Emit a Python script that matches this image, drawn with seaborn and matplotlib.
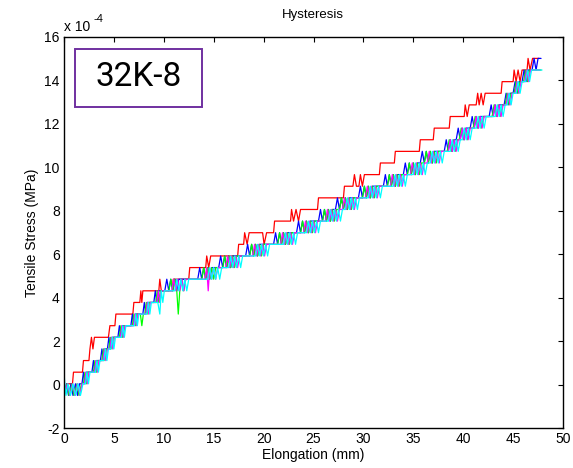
import numpy as np
import pandas as pd
import matplotlib
matplotlib.use("Agg")
import matplotlib.pyplot as plt
import seaborn as sns
from matplotlib.patches import Rectangle
from matplotlib.ticker import FuncFormatter

# ---------------- data ----------------
# stress is recorded in discrete load-cell counts; one count = QUANTUM MPa
QUANTUM = 0.535e-4
BASE = -0.5e-4
SCALE = 1e-4

x_ticks = [0, 5, 10, 15, 20, 25, 30, 35, 40, 45, 50]
y_ticks = [-2, 0, 2, 4, 6, 8, 10, 12, 14, 16]

# (elongation mm, count) samples
red_pts = [(0, 0), (0.3, 1), (0.85, 1), (0.95, 2), (1.85, 2), (1.95, 3), (2.5, 3), (2.6, 4),
           (2.75, 5), (2.9, 4), (3.05, 5), (4.45, 5), (4.6, 6), (5.1, 6), (5.2, 7), (6.9, 7),
           (7.0, 8), (7.6, 8), (7.7, 9), (7.8, 8), (7.9, 9), (9.5, 9), (9.6, 10), (9.75, 9),
           (10.85, 9), (10.95, 10), (12.5, 10), (12.6, 11), (14.2, 11), (14.3, 12), (14.5, 11),
           (14.7, 12), (17.4, 12), (17.5, 13), (18.0, 13), (18.1, 14), (18.35, 13), (18.55, 14),
           (19.9, 14), (20.05, 13), (20.3, 14), (21.0, 14), (21.1, 15), (22.7, 15), (22.8, 16),
           (23.0, 15), (23.25, 16), (23.5, 15), (23.7, 16), (25.4, 16), (25.5, 17), (28.0, 17),
           (28.1, 18), (28.95, 18), (29.1, 19), (29.3, 18), (29.55, 18), (29.7, 19), (29.9, 18),
           (30.1, 19), (31.6, 19), (31.7, 20), (33.1, 20), (33.2, 21), (35.6, 21), (35.7, 22),
           (37.0, 22), (37.1, 23), (38.6, 23), (38.7, 24), (40.1, 24), (40.2, 25), (40.4, 24),
           (40.6, 25), (41.3, 25), (41.45, 26), (41.6, 25), (41.8, 26), (42.0, 25), (42.2, 26),
           (43.8, 26), (43.9, 27), (45.0, 27), (45.1, 28), (45.3, 27), (45.5, 28), (45.7, 27),
           (45.9, 28), (46.4, 28), (46.5, 29), (46.7, 28), (46.95, 29), (47.6, 29)]

blue_pts = [(0.0, 0), (0.25, 1), (0.45, 0), (0.7, 1), (0.9, 0), (1.15, 1), (1.35, 0), (1.55, 1),
            (1.8, 1), (1.95, 2), (2.1, 1), (2.25, 2),
            (2.8, 2), (2.95, 3), (3.1, 2), (3.25, 3),
            (3.65, 3), (3.8, 4), (3.95, 3), (4.1, 4),
            (4.35, 4), (4.5, 5), (4.65, 4), (4.8, 5),
            (5.4, 5), (5.55, 6), (5.7, 5), (5.85, 6),
            (6.7, 6), (6.85, 7), (7.0, 6), (7.15, 7),
            (7.9, 7), (8.05, 8), (8.2, 7), (8.35, 8),
            (9.0, 8), (9.15, 9), (9.3, 8), (9.45, 9),
            (10.1, 9), (10.3, 10), (10.5, 9), (10.7, 10), (10.9, 9), (11.1, 10), (11.3, 9), (11.5, 10),
            (13.4, 10), (13.6, 11), (13.8, 10), (14.0, 11), (14.2, 10), (14.4, 11), (14.6, 10), (14.8, 11),
            (15.5, 11), (15.7, 12), (15.9, 11), (16.1, 12), (16.3, 11), (16.5, 12), (16.7, 11), (16.9, 12),
            (18.2, 12), (18.4, 13), (18.6, 12), (18.8, 13), (19.0, 12), (19.2, 13), (19.4, 12), (19.6, 13),
            (21.0, 13), (21.2, 14), (21.4, 13), (21.6, 14), (21.8, 13), (22.0, 14), (22.2, 13), (22.4, 14),
            (23.3, 14), (23.5, 15), (23.7, 14), (23.9, 15), (24.1, 14), (24.3, 15), (24.5, 14), (24.7, 15),
            (25.5, 15), (25.7, 16), (25.9, 15), (26.1, 16), (26.3, 15), (26.5, 16), (26.7, 15), (26.9, 16),
            (27.2, 16), (27.4, 17), (27.6, 16), (27.8, 17), (28.0, 16), (28.2, 17), (28.4, 16), (28.6, 17),
            (29.5, 17), (29.7, 18), (29.9, 17), (30.1, 18), (30.3, 17), (30.5, 18), (30.7, 17), (30.9, 18),
            (32.0, 18), (32.2, 19), (32.4, 18), (32.6, 19), (32.8, 18), (33.0, 19), (33.2, 18), (33.4, 19),
            (34.0, 19), (34.2, 20), (34.4, 19), (34.6, 20), (34.8, 19), (35.0, 20), (35.2, 19), (35.4, 20),
            (35.7, 20), (35.9, 21), (36.1, 20), (36.3, 21), (36.5, 20), (36.7, 21), (36.9, 20), (37.1, 21),
            (38.1, 21), (38.3, 22), (38.5, 21), (38.7, 22), (38.9, 21), (39.1, 22),
            (39.3, 22), (39.5, 23), (39.7, 22), (39.9, 23), (40.1, 22), (40.3, 23),
            (40.7, 23), (40.9, 24), (41.1, 23), (41.3, 24), (41.5, 23), (41.7, 24),
            (42.6, 24), (42.8, 25), (43.0, 24), (43.2, 25), (43.4, 24), (43.6, 25),
            (44.1, 25), (44.3, 26), (44.5, 25), (44.7, 26),
            (45.0, 26), (45.2, 27), (45.4, 26), (45.6, 27),
            (45.9, 27), (46.1, 28), (46.3, 27), (46.5, 28),
            (46.9, 28), (47.1, 29), (47.3, 28), (47.5, 29), (47.8, 29)]

green_pts = [(0.0, 0), (0.3, 1), (0.5, 0), (0.8, 1), (1.0, 0), (1.3, 1), (1.5, 0), (1.75, 1),
             (1.95, 1), (2.1, 2), (2.25, 1), (2.4, 2),
             (2.95, 2), (3.1, 3), (3.25, 2), (3.4, 3),
             (3.8, 3), (3.95, 4), (4.1, 3), (4.25, 4),
             (4.5, 4), (4.65, 5), (4.8, 4), (4.95, 5),
             (5.55, 5), (5.7, 6), (5.85, 5), (6.0, 6),
             (6.85, 6), (7.0, 7), (7.15, 6), (7.3, 7), (7.65, 7), (7.8, 6), (7.95, 7),
             (8.1, 7), (8.25, 8), (8.4, 7), (8.55, 8),
             (9.2, 8), (9.35, 9), (9.5, 8), (9.65, 9),
             (10.5, 9), (10.7, 10), (10.9, 9), (11.1, 10), (11.3, 9), (11.45, 7), (11.6, 9), (11.8, 10), (12.0, 9), (12.2, 10),
             (13.8, 10), (14.0, 11), (14.2, 10), (14.4, 11), (14.6, 10), (14.8, 11), (15.0, 10), (15.2, 11),
             (15.9, 11), (16.1, 12), (16.3, 11), (16.5, 12), (16.7, 11), (16.9, 12), (17.1, 11), (17.3, 12),
             (18.6, 12), (18.8, 13), (19.0, 12), (19.2, 13), (19.4, 12), (19.6, 13), (19.8, 12), (20.0, 13),
             (21.4, 13), (21.6, 14), (21.8, 13), (22.0, 14), (22.2, 13), (22.4, 14), (22.6, 13), (22.8, 14),
             (23.7, 14), (23.9, 15), (24.1, 14), (24.3, 15), (24.5, 14), (24.7, 15), (24.9, 14), (25.1, 15),
             (25.9, 15), (26.1, 16), (26.3, 15), (26.5, 16), (26.7, 15), (26.9, 16), (27.1, 15), (27.3, 16),
             (27.6, 16), (27.8, 17), (28.0, 16), (28.2, 17), (28.4, 16), (28.6, 17), (28.8, 16), (29.0, 17),
             (29.9, 17), (30.1, 18), (30.3, 17), (30.5, 18), (30.7, 17), (30.9, 18), (31.1, 17), (31.3, 18),
             (32.4, 18), (32.6, 19), (32.8, 18), (33.0, 19), (33.2, 18), (33.4, 19), (33.6, 18), (33.8, 19),
             (34.4, 19), (34.6, 20), (34.8, 19), (35.0, 20), (35.2, 19), (35.4, 20), (35.6, 19), (35.8, 20),
             (36.1, 20), (36.3, 21), (36.5, 20), (36.7, 21), (36.9, 20), (37.1, 21), (37.3, 20), (37.5, 21),
             (38.4, 21), (38.6, 22), (38.8, 21), (39.0, 22), (39.2, 21), (39.4, 22),
             (39.6, 22), (39.8, 23), (40.0, 22), (40.2, 23), (40.4, 22), (40.6, 23),
             (41.0, 23), (41.2, 24), (41.4, 23), (41.6, 24), (41.8, 23), (42.0, 24),
             (42.9, 24), (43.1, 25), (43.3, 24), (43.5, 25), (43.7, 24), (43.9, 25),
             (44.2, 25), (44.4, 26), (44.6, 25), (44.8, 26),
             (45.1, 26), (45.3, 27), (45.5, 26), (45.7, 27),
             (46.05, 27), (46.25, 28), (46.45, 27), (46.65, 28), (47.8, 28)]

magenta_pts = [(0.0, 0), (0.35, 1), (0.6, 0), (0.85, 1), (1.1, 0), (1.35, 1), (1.6, 0), (1.8, 1),
               (2.05, 1), (2.2, 2), (2.35, 1), (2.5, 2),
               (3.05, 2), (3.2, 3), (3.35, 2), (3.5, 3),
               (3.9, 3), (4.05, 4), (4.2, 3), (4.35, 4),
               (4.6, 4), (4.75, 5), (4.9, 4), (5.05, 5),
               (5.65, 5), (5.8, 6), (5.95, 5), (6.1, 6),
               (6.95, 6), (7.1, 7), (7.25, 6), (7.4, 7),
               (8.2, 7), (8.35, 8), (8.5, 7), (8.65, 8),
               (9.3, 8), (9.45, 9), (9.6, 8), (9.75, 9),
               (10.8, 9), (11.0, 10), (11.2, 9), (11.4, 10), (11.6, 9), (11.8, 10), (12.0, 9), (12.2, 10),
               (14.1, 10), (14.3, 11), (14.45, 9), (14.6, 11), (14.8, 10), (15.0, 11), (15.2, 10), (15.4, 11),
               (16.2, 11), (16.4, 12), (16.6, 11), (16.8, 12), (17.0, 11), (17.2, 12), (17.4, 11), (17.6, 12),
               (18.9, 12), (19.1, 13), (19.3, 12), (19.5, 13), (19.7, 12), (19.9, 13), (20.1, 12), (20.3, 13),
               (21.7, 13), (21.9, 14), (22.1, 13), (22.3, 14), (22.5, 13), (22.7, 14), (22.9, 13), (23.1, 14),
               (24.0, 14), (24.2, 15), (24.4, 14), (24.6, 15), (24.8, 14), (25.0, 15), (25.2, 14), (25.4, 15),
               (26.2, 15), (26.4, 16), (26.6, 15), (26.8, 16), (27.0, 15), (27.2, 16), (27.4, 15), (27.6, 16),
               (27.9, 16), (28.1, 17), (28.3, 16), (28.5, 17), (28.7, 16), (28.9, 17), (29.1, 16), (29.3, 17),
               (30.2, 17), (30.4, 18), (30.6, 17), (30.8, 18), (31.0, 17), (31.2, 18), (31.4, 17), (31.6, 18),
               (32.7, 18), (32.9, 19), (33.1, 18), (33.3, 19), (33.5, 18), (33.7, 19), (33.9, 18), (34.1, 19),
               (34.7, 19), (34.9, 20), (35.1, 19), (35.3, 20), (35.5, 19), (35.7, 20), (35.9, 19), (36.1, 20),
               (36.4, 20), (36.6, 21), (36.8, 20), (37.0, 21), (37.2, 20), (37.4, 21), (37.6, 20), (37.8, 21),
               (38.5, 21), (38.7, 22), (38.9, 21), (39.1, 22), (39.3, 21), (39.5, 22),
               (39.7, 22), (39.9, 23), (40.1, 22), (40.3, 23), (40.5, 22), (40.7, 23),
               (41.1, 23), (41.3, 24), (41.5, 23), (41.7, 24), (41.9, 23), (42.1, 24),
               (43.0, 24), (43.2, 25), (43.4, 24), (43.6, 25), (43.8, 24), (44.0, 25),
               (44.3, 25), (44.5, 26), (44.7, 25), (44.9, 26),
               (45.2, 26), (45.4, 27), (45.6, 26), (45.8, 27),
               (46.15, 27), (46.35, 28), (46.55, 27), (46.75, 28), (47.7, 28)]

cyan_pts = [(0.0, 2), (0.08, 1), (0.2, 0),
            (0.4, 1), (0.65, 0), (0.9, 1), (1.15, 0), (1.4, 1), (1.65, 0), (1.9, 1),
            (2.15, 1), (2.3, 2), (2.45, 1), (2.6, 2),
            (3.15, 2), (3.3, 3), (3.45, 2), (3.6, 3),
            (4.0, 3), (4.15, 4), (4.3, 3), (4.45, 4),
            (4.7, 4), (4.85, 5), (5.0, 4), (5.15, 5),
            (5.75, 5), (5.9, 6), (6.05, 5), (6.2, 6),
            (7.05, 6), (7.2, 7), (7.35, 6), (7.5, 7),
            (8.3, 7), (8.45, 8), (8.6, 7), (8.75, 8),
            (9.4, 8), (9.6, 7), (9.75, 9), (9.9, 8), (10.05, 9),
            (11.1, 9), (11.3, 10), (11.5, 9), (11.7, 10), (11.9, 9), (12.1, 10), (12.3, 9), (12.5, 10),
            (14.4, 10), (14.6, 11), (14.8, 10), (15.0, 11), (15.2, 10), (15.4, 11), (15.6, 10), (15.8, 11),
            (16.5, 11), (16.7, 12), (16.9, 11), (17.1, 12), (17.3, 11), (17.5, 12), (17.7, 11), (17.9, 12),
            (19.2, 12), (19.4, 13), (19.6, 12), (19.8, 13), (20.0, 12), (20.2, 13), (20.4, 12), (20.6, 13),
            (22.0, 13), (22.2, 14), (22.4, 13), (22.6, 14), (22.8, 13), (23.0, 14), (23.2, 13), (23.4, 14),
            (24.3, 14), (24.5, 15), (24.7, 14), (24.9, 15), (25.1, 14), (25.3, 15), (25.5, 14), (25.7, 15),
            (26.5, 15), (26.7, 16), (26.9, 15), (27.1, 16), (27.3, 15), (27.5, 16), (27.7, 15), (27.9, 16),
            (28.2, 16), (28.4, 17), (28.6, 16), (28.8, 17), (29.0, 16), (29.2, 17), (29.4, 16), (29.6, 17),
            (30.5, 17), (30.7, 18), (30.9, 17), (31.1, 18), (31.3, 17), (31.5, 18), (31.7, 17), (31.9, 18),
            (33.0, 18), (33.2, 19), (33.4, 18), (33.6, 19), (33.8, 18), (34.0, 19), (34.2, 18), (34.4, 19),
            (35.0, 19), (35.2, 20), (35.4, 19), (35.6, 20), (35.8, 19), (36.0, 20), (36.2, 19), (36.4, 20),
            (36.7, 20), (36.9, 21), (37.1, 20), (37.3, 21), (37.5, 20), (37.7, 21), (37.9, 20), (38.1, 21),
            (38.7, 21), (38.9, 22), (39.1, 21), (39.3, 22), (39.5, 21), (39.7, 22),
            (39.9, 22), (40.1, 23), (40.3, 22), (40.5, 23), (40.7, 22), (40.9, 23),
            (41.3, 23), (41.5, 24), (41.7, 23), (41.9, 24), (42.1, 23), (42.3, 24),
            (43.2, 24), (43.4, 25), (43.6, 24), (43.8, 25), (44.0, 24), (44.2, 25),
            (44.4, 25), (44.6, 26), (44.8, 25), (45.0, 26),
            (45.3, 26), (45.5, 27), (45.7, 26), (45.9, 27),
            (46.25, 27), (46.45, 28), (46.65, 27), (46.85, 28), (47.9, 28)]

series = {"red": red_pts, "blue": blue_pts, "green": green_pts,
          "magenta": magenta_pts, "cyan": cyan_pts}
colors = {"red": "#ff0000", "blue": "#0000ff", "green": "#00ff00",
          "magenta": "#ff00ff", "cyan": "#00ffff"}

rows = []
for name, pts in series.items():
    for i, (xv, kv) in enumerate(pts):
        rows.append({"series": name, "order": i, "x": xv, "y": BASE + QUANTUM * kv})
df = pd.DataFrame(rows)

# ---------------- plot ----------------
sns.set_style("white")
plt.rcParams["font.family"] = ["Liberation Sans", "DejaVu Sans"]
plt.rcParams["text.color"] = "black"
plt.rcParams["axes.labelcolor"] = "black"

fig = plt.figure(figsize=(5.73, 4.68), dpi=100)
W, H = 573, 468
ax = fig.add_axes([64 / W, (H - 428) / H, 499 / W, 391 / H])

sns.lineplot(data=df, x="x", y="y", hue="series", hue_order=list(series.keys()),
             palette=colors, sort=False, estimator=None, units="series",
             legend=False, linewidth=0.9, ax=ax)

ax.set_xlim(0, 50)
ax.set_ylim(-2 * SCALE, 16 * SCALE)
ax.set_xticks(x_ticks)
ax.set_yticks([t * SCALE for t in y_ticks])
ax.yaxis.set_major_formatter(FuncFormatter(lambda v, p: f"{v / SCALE:.0f}"))
ax.tick_params(direction="in", length=3.5, width=0.8, top=True, right=True,
               labelsize=10, colors="black", pad=3)
for s in ax.spines.values():
    s.set_visible(True)
    s.set_color("black")
    s.set_linewidth(1.0)

ax.set_xlabel("Elongation (mm)", fontsize=10, labelpad=1)
ax.set_ylabel("Tensile Stress (MPa)", fontsize=10, labelpad=4)
fig.text(313 / W, 1 - 15 / H, "Hysteresis", ha="center", va="center", fontsize=9.5)

# exponent label
fig.text(64 / W, 1 - 31 / H, "x 10", ha="left", va="baseline", fontsize=10)
fig.text(93 / W, 1 - 22 / H, "-4", ha="left", va="baseline", fontsize=8)

# annotation box
fig.patches.append(Rectangle((75 / W, 1 - 106.5 / H), 126.5 / W, 58 / H,
                             transform=fig.transFigure, fill=False,
                             edgecolor="#7030a0", linewidth=1.4))
fig.text(139 / W, 1 - 77.5 / H, "32K-8", ha="center", va="center", color="black",
         fontsize=24, family=["Roboto", "DejaVu Sans"])

fig.savefig("out.png", dpi=100)
